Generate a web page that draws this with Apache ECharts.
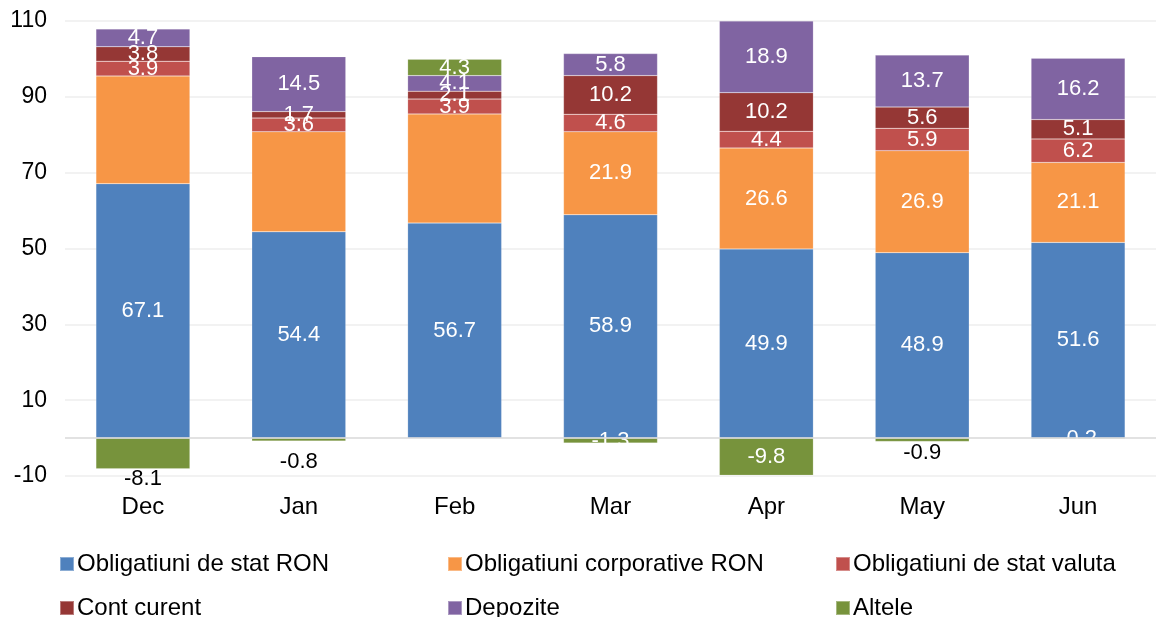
<!DOCTYPE html>
<html><head><meta charset="utf-8">
<script src="https://cdn.jsdelivr.net/npm/echarts@6/dist/echarts.min.js"></script>
<style>html,body{margin:0;padding:0;background:#fff}#c{width:1156px;height:617px}</style>
</head><body><div id="c"></div>
<script>
const categories = ['Dec','Jan','Feb','Mar','Apr','May','Jun'];
const statRON   = [67.1, 54.4, 56.7, 58.9, 49.9, 48.9, 51.6];
const corpRON   = [28.4, 26.4, 28.8, 21.9, 26.6, 26.9, 21.1];
const statVal   = [3.9, 3.6, 3.9, 4.6, 4.4, 5.9, 6.2];
const contCur   = [3.8, 1.7, 2.1, 10.2, 10.2, 5.6, 5.1];
const depozite  = [4.7, 14.5, 4.1, 5.8, 18.9, 13.7, 16.2];
const altele    = [-8.1, -0.8, 4.3, -1.3, -9.8, -0.9, -0.2];
const yTicks = [-10, 10, 30, 50, 70, 90, 110];
const names = ['Obligatiuni de stat RON','Obligatiuni corporative RON','Obligatiuni de stat valuta','Cont curent','Depozite','Altele'];
const colors = ['#4F81BD','#F79646','#C0504D','#953735','#8064A2','#77933C'];

const FONT = 'Liberation Sans, Arial, sans-serif';
const VAL_FS = 22;
const lblWhite = {show:true, position:'inside', color:'#fff', fontSize:VAL_FS, fontFamily:FONT, formatter: p => p.value.toFixed(1)};

function mk(name, arr, color, labelFn) {
  return {
    name, type:'bar', stack:'s', barWidth:94, z:2,
    itemStyle:{color, borderColor:'rgba(255,255,255,0.35)', borderWidth:0.5},
    label: lblWhite,
    data: arr.map((v,i)=> labelFn ? labelFn(v,i) : v)
  };
}
const noCorpLabel = [0,1,2];
// label distance below bar for small negative "Altele" values shown in black
const blackBelow = {0:-1, 1:10, 5:0};
const series = [
  mk(names[0], statRON, colors[0]),
  mk(names[1], corpRON, colors[1], (v,i)=> noCorpLabel.includes(i) ? {value:v, label:{show:false}} : v),
  mk(names[2], statVal, colors[2]),
  mk(names[3], contCur, colors[3]),
  mk(names[4], depozite, colors[4]),
  mk(names[5], altele, colors[5], (v,i)=>{
    if (i in blackBelow) return {value:v, label:{show:true, position:'bottom', distance:blackBelow[i], color:'#000', fontSize:VAL_FS, fontFamily:FONT}};
    return v;
  })
];

const legendPos = [[54,547],[442,547],[830,547],[54,591],[442,591],[830,591]];
const legends = names.map((n,i)=>({
  data:[n], left:legendPos[i][0], top:legendPos[i][1], icon:'rect', itemWidth:14, itemHeight:14, itemGap:0,
  textStyle:{fontSize:24, fontFamily:FONT, color:'#000', padding:[0,0,0,-2]}, selectedMode:false
}));

const chart = echarts.init(document.getElementById('c'));
chart.setOption({
  animation:false,
  color: colors,
  grid:{left:65, top:21, width:1105, height:455},
  legend: legends,
  xAxis:{type:'category', data:categories,
    axisLine:{show:false}, axisTick:{show:false},
    axisLabel:{fontSize:24, fontFamily:FONT, color:'#000', margin:19}},
  yAxis:{type:'value', min:-10, max:110, interval:20,
    axisLine:{show:false}, axisTick:{show:false},
    axisLabel:{fontSize:23, fontFamily:FONT, color:'#000', margin:18,
      formatter: v => yTicks.includes(v) ? String(v) : ''},
    splitLine:{lineStyle:{color:'#EEEEEE', width:1.5}}},
  series: series.concat([{
    type:'line', data:[], markLine:{silent:true, symbol:'none', label:{show:false},
      lineStyle:{color:'#D9D9D9', type:'solid', width:1.5}, data:[{yAxis:0}]}, z:1
  }])
});
</script></body></html>
